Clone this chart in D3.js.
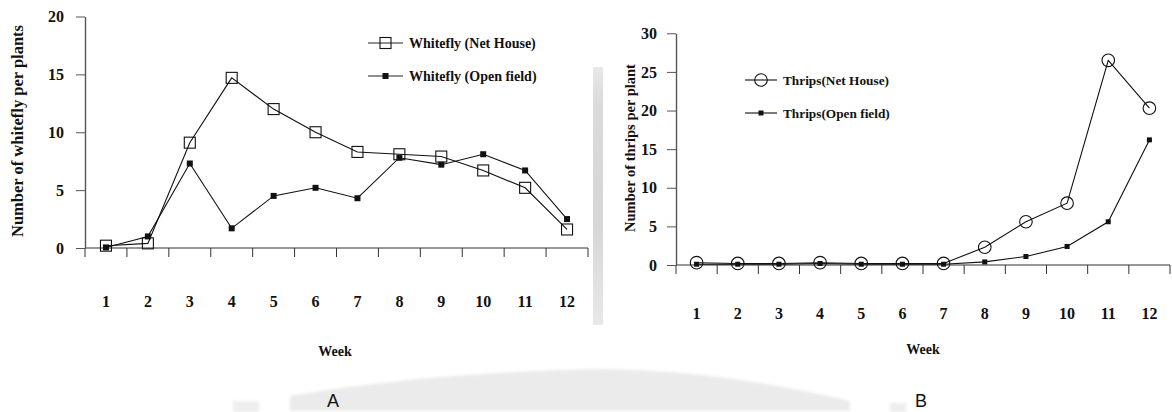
<!DOCTYPE html>
<html>
<head>
<meta charset="utf-8">
<script src="https://cdn.jsdelivr.net/npm/d3@7"></script>
<style>
  body { margin: 0; background: #fff; }
  svg { display: block; }
  text { font-family: "Liberation Serif", "Times New Roman", serif; font-weight: bold; fill: #111; }
</style>
</head>
<body>
<div id="graphic"></div>
<script>
// week categories shared by both panels
var weeks = ["1", "2", "3", "4", "5", "6", "7", "8", "9", "10", "11", "12"];

// panel A - whitefly
var whiteflyNetHouse = [0.2, 0.4, 9.1, 14.7, 12.0, 10.0, 8.3, 8.1, 7.9, 6.7, 5.2, 1.6];
var whiteflyOpenField = [0.05, 1.0, 7.3, 1.7, 4.5, 5.2, 4.3, 7.8, 7.2, 8.1, 6.7, 2.5];
var whiteflyTicks = [0, 5, 10, 15, 20];

// panel B - thrips
var thripsNetHouse = [0.3, 0.2, 0.2, 0.3, 0.2, 0.2, 0.2, 2.3, 5.6, 8.0, 26.5, 20.3];
var thripsOpenField = [0.1, 0.1, 0.1, 0.2, 0.1, 0.1, 0.1, 0.4, 1.1, 2.4, 5.6, 16.2];
var thripsTicks = [0, 5, 10, 15, 20, 25, 30];

var W = 1172, H = 412;

var svg = d3.select("#graphic").append("svg")
  .attr("width", W)
  .attr("height", H);

// faint background decorations (scan artefacts)
var defs = svg.append("defs");
defs.append("filter").attr("id", "blur")
  .append("feGaussianBlur").attr("stdDeviation", 1.5);
var vg = defs.append("linearGradient").attr("id", "vbar")
  .attr("x1", 0).attr("x2", 0).attr("y1", 0).attr("y2", 1);
vg.append("stop").attr("offset", "0%").attr("stop-color", "#e8e8e8");
vg.append("stop").attr("offset", "15%").attr("stop-color", "#dadada");
vg.append("stop").attr("offset", "60%").attr("stop-color", "#d6d6d6");
vg.append("stop").attr("offset", "100%").attr("stop-color", "#e8e8e8");

svg.append("rect")
  .attr("x", 593).attr("y", 67).attr("width", 10).attr("height", 258)
  .attr("fill", "url(#vbar)");

svg.append("path")
  .attr("d", "M290,411 L290,396 C350,386 450,372 600,369 C700,370 780,385 850,401 L850,411 Z")
  .attr("fill", "#ebebeb")
  .attr("filter", "url(#blur)");
svg.append("rect")
  .attr("x", 233).attr("y", 401).attr("width", 26).attr("height", 11)
  .attr("fill", "#eeeeee").attr("filter", "url(#blur)");
svg.append("rect")
  .attr("x", 890).attr("y", 403).attr("width", 16).attr("height", 9)
  .attr("fill", "#eeeeee").attr("filter", "url(#blur)");

function drawPanel(opt) {
  var x = d3.scaleBand()
    .domain(weeks)
    .range([opt.x0, opt.x1])
    .paddingInner(0).paddingOuter(0);

  var y = d3.scaleLinear()
    .domain([0, d3.max(opt.ticks)])
    .range([opt.y0, opt.y1]);

  var g = svg.append("g");

  // x axis line and ticks at band edges
  g.append("line")
    .attr("x1", opt.x0).attr("x2", opt.x1)
    .attr("y1", y(0)).attr("y2", y(0))
    .attr("stroke", "#333").attr("stroke-width", 1.2);

  var edges = weeks.map(function (w) { return x(w); }).concat([opt.x1]);
  g.selectAll(".xtick")
    .data(edges)
    .enter().append("line")
    .attr("x1", function (d) { return d; })
    .attr("x2", function (d) { return d; })
    .attr("y1", y(0))
    .attr("y2", y(0) + 9)
    .attr("stroke", "#333").attr("stroke-width", 1);

  // x labels
  g.selectAll(".xlab")
    .data(weeks)
    .enter().append("text")
    .attr("x", function (d) { return x(d) + x.bandwidth() / 2; })
    .attr("y", opt.labY)
    .attr("text-anchor", "middle")
    .attr("dominant-baseline", "central")
    .style("font-size", "16px")
    .text(function (d) { return d; });

  // y axis
  var ya = g.append("g")
    .attr("transform", "translate(" + opt.x0 + ",0)")
    .call(d3.axisLeft(y).tickValues(opt.ticks).tickSize(9).tickSizeOuter(0).tickPadding(opt.tickPad));
  ya.select(".domain").attr("stroke", "#555").attr("stroke-width", 1.4);
  ya.selectAll(".tick line").attr("stroke", "#555");
  ya.selectAll(".tick text")
    .attr("font-family", null).attr("font-size", null)
    .style("font-size", "16px").attr("fill", "#111");

  // axis titles
  g.append("text")
    .attr("transform", "translate(" + opt.titleX + "," + opt.titleY + ") rotate(-90)")
    .attr("text-anchor", "middle")
    .attr("dominant-baseline", "central")
    .style("font-size", opt.titleFont)
    .text(opt.yTitle);

  g.append("text")
    .attr("x", opt.weekX).attr("y", opt.weekY)
    .attr("text-anchor", "middle")
    .attr("dominant-baseline", "central")
    .style("font-size", "14px")
    .text("Week");

  var line = d3.line()
    .x(function (d, i) { return x(weeks[i]) + x.bandwidth() / 2; })
    .y(function (d) { return y(d); });

  opt.series.forEach(function (s) {
    g.append("path")
      .datum(s.values)
      .attr("d", line)
      .attr("fill", "none")
      .attr("stroke", "#111")
      .attr("stroke-width", 1.1);

    var pts = g.selectAll(null)
      .data(s.values)
      .enter();
    drawMarker(pts, s.marker,
      function (d, i) { return x(weeks[i]) + x.bandwidth() / 2; },
      function (d) { return y(d); });

    // legend entry
    var lg = g.append("g");
    lg.append("line")
      .attr("x1", s.legX).attr("x2", s.legX + opt.legLen)
      .attr("y1", s.legY).attr("y2", s.legY)
      .attr("stroke", "#222").attr("stroke-width", 1.2);
    drawMarker(lg.selectAll(null).data([0]).enter(), s.marker,
      function () { return s.legX + opt.legLen / 2; },
      function () { return s.legY; });
    lg.append("text")
      .attr("x", s.legX + opt.legLen + 6)
      .attr("y", s.legY)
      .attr("dominant-baseline", "central")
      .style("font-size", opt.legFont)
      .text(s.name);
  });
}

function drawMarker(sel, type, fx, fy) {
  if (type === "openSquare") {
    sel.append("rect")
      .attr("x", function (d, i) { return fx(d, i) - 5.5; })
      .attr("y", function (d, i) { return fy(d, i) - 5.5; })
      .attr("width", 11).attr("height", 11)
      .attr("fill", "none").attr("stroke", "#111").attr("stroke-width", 1.1);
  } else if (type === "circle") {
    sel.append("circle")
      .attr("cx", function (d, i) { return fx(d, i); })
      .attr("cy", function (d, i) { return fy(d, i); })
      .attr("r", 6.3)
      .attr("fill", "none").attr("stroke", "#111").attr("stroke-width", 1.1);
  } else {
    var s = type === "smallSquare" ? 5 : 6;
    sel.append("rect")
      .attr("x", function (d, i) { return fx(d, i) - s / 2; })
      .attr("y", function (d, i) { return fy(d, i) - s / 2; })
      .attr("width", s).attr("height", s)
      .attr("fill", "#111");
  }
}

drawPanel({
  x0: 85, x1: 588, y0: 248, y1: 16.5,
  ticks: whiteflyTicks, tickPad: 12,
  labY: 301, titleX: 17, titleY: 131, titleFont: "16.5px",
  weekX: 335, weekY: 351,
  yTitle: "Number of whitefly per plants",
  legLen: 35, legFont: "14px",
  series: [
    { name: "Whitefly (Net House)", values: whiteflyNetHouse, marker: "openSquare", legX: 368, legY: 43 },
    { name: "Whitefly (Open field)", values: whiteflyOpenField, marker: "square", legX: 368, legY: 76 }
  ]
});

drawPanel({
  x0: 676, x1: 1170, y0: 265, y1: 33.3,
  ticks: thripsTicks, tickPad: 10,
  labY: 313, titleX: 630, titleY: 148, titleFont: "14.5px",
  weekX: 923, weekY: 349,
  yTitle: "Number of thrips per plant",
  legLen: 32, legFont: "13.3px",
  series: [
    { name: "Thrips(Net House)", values: thripsNetHouse, marker: "circle", legX: 745, legY: 80 },
    { name: "Thrips(Open field)", values: thripsOpenField, marker: "smallSquare", legX: 745, legY: 113 }
  ]
});

// panel letters
svg.selectAll(".panel")
  .data([{ t: "A", x: 333 }, { t: "B", x: 921 }])
  .enter().append("text")
  .attr("x", function (d) { return d.x; })
  .attr("y", 401)
  .attr("text-anchor", "middle")
  .attr("dominant-baseline", "central")
  .style("font-family", "'Liberation Sans', Arial, sans-serif")
  .style("font-weight", "normal")
  .style("font-size", "18px")
  .text(function (d) { return d.t; });
</script>
</body>
</html>
